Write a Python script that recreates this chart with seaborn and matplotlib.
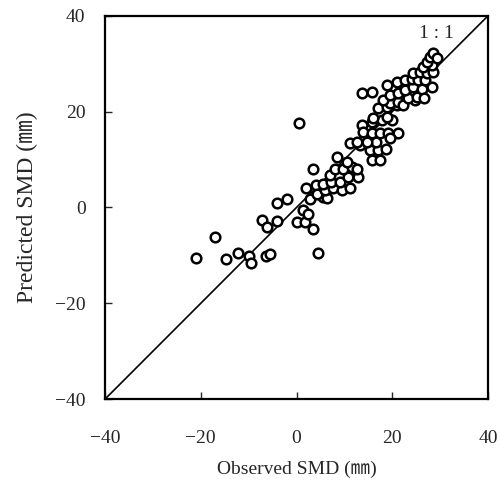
import numpy as np
import pandas as pd
import matplotlib
matplotlib.use('Agg')
import matplotlib.pyplot as plt
import seaborn as sns

# observed vs predicted SMD (mm)
observed = [
    -21.0, -14.7, -12.2, -9.9, -9.4, -6.4, -5.5, -17.0, -7.3, -6.2, -4.0, -4.1,
    -2.0, 0.0, 1.8, 3.4, 1.3, 2.5, 2.8, 2.0, 4.0, 3.5, 4.4, 0.5,
    5.6, 6.3, 4.2, 6.0, 5.6, 7.7, 9.4, 11.2, 7.3, 9.1, 7.0, 10.8, 12.9,
    8.0, 9.8, 11.5, 12.6, 8.4, 10.5, 11.2, 13.3, 15.4, 17.1, 18.7, 15.7,
    17.4, 16.7, 12.6, 14.7, 13.6, 15.7, 17.8, 19.9, 13.9, 15.7, 17.4, 19.2,
    21.1, 19.5, 18.8, 16.0, 17.1, 18.8, 20.9, 19.5, 21.3, 18.1, 22.3, 24.7,
    23.3, 25.1, 13.6, 15.7, 18.8, 19.5, 21.3, 22.7, 24.4, 26.2, 28.2, 20.9,
    22.7, 24.1, 25.4, 26.8, 24.4, 25.8, 27.2, 28.6, 26.5, 28.2, 27.2, 27.9,
    28.6, 29.3, 26.6,
]
predicted = [
    -10.5, -10.8, -9.6, -10.1, -11.5, -10.1, -9.8, -6.1, -2.7, -4.0, -2.9, 1.0,
    1.7, -3.0, -3.0, -4.4, -0.6, -1.3, 1.7, 4.0, 4.7, 8.0, -9.5, 17.7,
    2.2, 1.9, 2.9, 3.6, 5.0, 4.0, 3.6, 4.0, 5.4, 5.4, 6.7, 6.4, 6.4,
    8.1, 8.1, 8.5, 8.1, 10.6, 9.5, 13.4, 13.0, 12.0, 12.0, 12.3, 9.9,
    9.9, 13.7, 13.7, 13.7, 17.2, 17.9, 18.2, 18.2, 15.8, 15.5, 15.5, 15.5,
    15.5, 14.4, 18.9, 18.6, 20.7, 21.0, 21.4, 21.7, 22.1, 22.4, 21.4, 22.4,
    22.8, 23.1, 23.8, 24.2, 25.5, 23.4, 23.8, 24.5, 25.2, 24.8, 25.2, 26.2,
    26.6, 26.9, 26.6, 26.6, 28.0, 28.3, 28.0, 28.3, 29.4, 29.7, 30.4, 31.5,
    32.2, 31.1, 22.8,
]
ticks = [-40, -20, 0, 20, 40]

df = pd.DataFrame({'obs': observed, 'pred': predicted})

sns.set_style('ticks')
plt.rcParams['font.family'] = ['Liberation Serif', 'Noto Sans CJK JP']

fig = plt.figure(figsize=(5, 4.94), dpi=100)
ax = fig.add_axes([0.21, 0.192, 0.766, 0.776])

ax.plot([-40, 40], [-40, 40], color='black', lw=1.2, zorder=1)
sns.scatterplot(data=df, x='obs', y='pred', ax=ax, s=48, facecolor='white',
                edgecolor='black', linewidth=1.8, zorder=2, legend=False)

ax.text(29.3, 36.3, '1 : 1', fontsize=14, ha='center', va='center')

ax.set_xlim(-40, 40)
ax.set_ylim(-40, 40)
ax.set_xticks(ticks)
ax.set_yticks(ticks)
labels = [str(t) if t >= 0 else '\u2212' + str(-t) for t in ticks]
ax.set_xticklabels(labels, fontsize=14)
ax.set_yticklabels(labels, fontsize=14)
ax.tick_params(direction='in', length=5, width=1, pad=22)
ax.tick_params(axis='y', pad=14)
for sp in ax.spines.values():
    sp.set_linewidth(1.6)
    sp.set_color('black')

ax.set_xlabel('Observed SMD (\u339c)', fontsize=14, labelpad=10)
ax.set_ylabel('Predicted SMD (\u339c)', fontsize=17, labelpad=12)

fig.savefig('out.png', dpi=100)
